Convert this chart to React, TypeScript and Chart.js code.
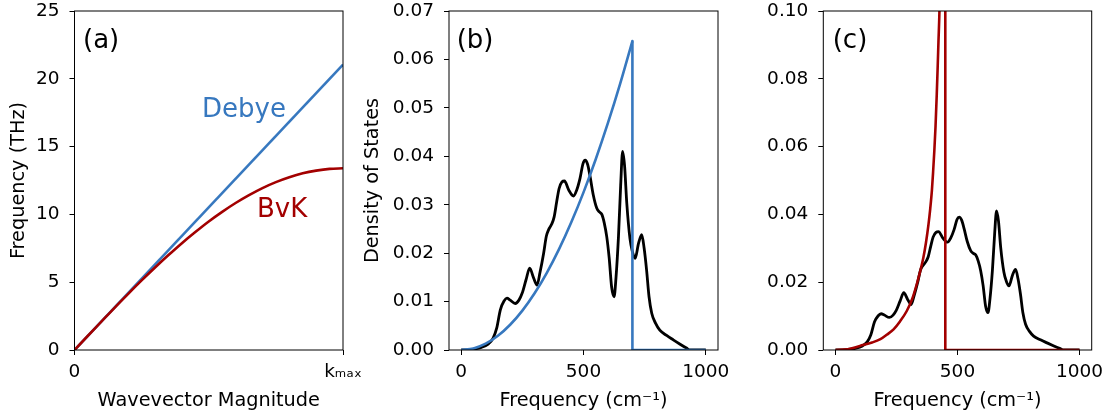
import React, { useEffect, useRef } from 'react';
import { Chart, registerables } from 'chart.js';

Chart.register(...registerables);

const FONT = '"DejaVu Sans", sans-serif';
const BLUE = '#3778bf';
const RED = '#a30000';
const BLACK = '#000000';

// ---------- Panel (a): dispersion ----------
const waveK = [0, 0.05, 0.1, 0.15, 0.2, 0.25, 0.3, 0.35, 0.4, 0.45, 0.5, 0.55, 0.6, 0.65, 0.7, 0.75, 0.8, 0.85, 0.9, 0.95, 1.0];
const bvkFreq = [0, 1.05, 2.09, 3.13, 4.14, 5.13, 6.08, 7.0, 7.88, 8.7, 9.48, 10.19, 10.84, 11.42, 11.94, 12.38, 12.74, 13.03, 13.23, 13.36, 13.4];
const debyeK = [0, 1];
const debyeFreq = [0, 21.05];
const kTickValues = [0, 1];
const kTickLabels = ['0', 'kₘₐₓ'];
const freqTickValues = [0, 500, 1000];

// ---------- Panels (b), (c): density of states ----------
const dosFreq = [0, 40, 80, 110, 130, 145, 160, 175, 187, 200, 221, 236, 249, 265, 280, 295, 310, 322, 337, 348, 357, 370, 380, 390, 400, 412, 422, 440, 459, 472, 486, 498, 507, 517, 527, 540, 554, 565, 575, 585, 595, 605, 615, 625, 633, 643, 652, 660, 668, 677, 690, 700, 711, 725, 738, 748, 758, 768, 779, 795, 812, 840, 867, 895, 921, 935, 1000];
const dosValue = [0, 0.0001, 0.0005, 0.0012, 0.0024, 0.0045, 0.0083, 0.0101, 0.0107, 0.0103, 0.0096, 0.0103, 0.0117, 0.0145, 0.0169, 0.015, 0.0134, 0.016, 0.02, 0.0235, 0.0248, 0.026, 0.0275, 0.0305, 0.0333, 0.0347, 0.0349, 0.033, 0.0318, 0.033, 0.0355, 0.0385, 0.0392, 0.0383, 0.0358, 0.032, 0.0293, 0.0285, 0.028, 0.0262, 0.0234, 0.019, 0.013, 0.011, 0.015, 0.0234, 0.034, 0.041, 0.038, 0.0303, 0.023, 0.0203, 0.0189, 0.022, 0.0238, 0.021, 0.0165, 0.011, 0.0076, 0.0055, 0.0041, 0.003, 0.0021, 0.0012, 0.0004, 0, 0];

// Debye DOS: rising branch, then the drop at the cutoff and the zero tail
const debyeDosFreq = [0, 50, 100, 150, 200, 250, 300, 350, 400, 450, 500, 550, 600, 650, 700];
const debyeDosValue = [0, 0.00033, 0.0013, 0.00293, 0.00521, 0.00814, 0.01172, 0.01595, 0.02083, 0.02637, 0.03255, 0.03939, 0.04688, 0.05501, 0.0638];
const debyeDropFreq = [700, 700, 1000];
const debyeDropValue = [0.0638, 0, 0];

// BvK DOS: rising (diverging) branch, then the drop at the cutoff and the zero tail
const bvkDosFreq = [0, 50, 100, 150, 184, 210, 238, 265, 292, 315, 333, 347, 360, 371, 381, 388, 395, 400, 405, 410, 415, 419, 422, 426, 432, 440, 446, 449];
const bvkDosValue = [0, 0.0002, 0.0012, 0.0022, 0.0032, 0.0045, 0.0061, 0.0085, 0.0115, 0.0152, 0.0194, 0.0232, 0.0272, 0.0318, 0.037, 0.0415, 0.047, 0.0525, 0.0587, 0.066, 0.0754, 0.084, 0.091, 0.1, 0.125, 0.18, 0.3, 0.6];
const bvkDropFreq = [450, 450, 1000];
const bvkDropValue = [0.6, 0, 0];

const zip = (xs: number[], ys: number[]) => xs.map((x, i) => ({ x, y: ys[i] }));

type Note = { text: string; dx: number; dy: number; color: string };

interface PanelSpec {
  plotLeft: number;
  plotRight: number;
  yAxisWidth: number;
  xMin: number;
  xMax: number;
  xTicks: number[];
  xLabel: (v: number, i: number) => string;
  yMax: number;
  yStep: number;
  yDecimals: number;
  yTitle: string | null;
  xTitle: string;
  datasets: any[];
  notes: Note[];
}

const W = 1107;
const H = 413;
const PLOT_TOP = 11;
const X_AXIS_H = 63;

function buildConfig(p: PanelSpec): any {
  const framePlugin = {
    id: 'frame',
    afterDatasetsDraw(chart: any) {
      const { ctx, chartArea: a } = chart;
      ctx.save();
      ctx.strokeStyle = '#000';
      ctx.lineWidth = 1;
      ctx.strokeRect(a.left, a.top, a.right - a.left, a.bottom - a.top);
      ctx.textBaseline = 'alphabetic';
      ctx.textAlign = 'left';
      ctx.font = `26px ${FONT}`;
      p.notes.forEach((n) => {
        ctx.fillStyle = n.color;
        ctx.fillText(n.text, a.left + n.dx, a.top + n.dy);
      });
      ctx.restore();
    },
  };
  const tickFont = { family: FONT, size: 18.5 };
  const titleFont = { family: FONT, size: 19.3 };
  return {
    type: 'line',
    data: { datasets: p.datasets },
    plugins: [framePlugin],
    options: {
      responsive: false,
      animation: false,
      events: [],
      layout: { padding: { left: p.plotLeft - p.yAxisWidth, right: W - p.plotRight, top: PLOT_TOP, bottom: 0 } },
      plugins: { legend: { display: false }, tooltip: { enabled: false } },
      elements: { point: { radius: 0 } },
      scales: {
        x: {
          type: 'linear',
          min: p.xMin,
          max: p.xMax,
          afterFit: (s: any) => {
            s.height = X_AXIS_H;
            s.paddingLeft = 0;
            s.paddingRight = 0;
          },
          afterBuildTicks: (s: any) => {
            s.ticks = p.xTicks.map((v) => ({ value: v }));
          },
          border: { display: false },
          grid: { drawOnChartArea: false, drawTicks: true, tickLength: 5, color: '#000', tickColor: '#000', lineWidth: 1 },
          ticks: {
            color: '#000',
            font: tickFont,
            padding: 6,
            maxRotation: 0,
            autoSkip: false,
            callback: (v: number, i: number) => p.xLabel(v, i),
          },
          title: { display: true, text: p.xTitle, color: '#000', font: titleFont, padding: { top: 0, bottom: 0.5 } },
        },
        y: {
          type: 'linear',
          min: 0,
          max: p.yMax,
          afterFit: (s: any) => {
            s.width = p.yAxisWidth;
            s.paddingTop = 0;
            s.paddingBottom = 0;
          },
          border: { display: false },
          grid: { drawOnChartArea: false, drawTicks: true, tickLength: 5, color: '#000', tickColor: '#000', lineWidth: 1 },
          ticks: {
            color: '#000',
            font: tickFont,
            padding: 10,
            stepSize: p.yStep,
            autoSkip: false,
            callback: (v: number) => Number(v).toFixed(p.yDecimals),
          },
          title: p.yTitle
            ? { display: true, text: p.yTitle, color: '#000', font: titleFont, padding: { top: 0, bottom: 0 } }
            : { display: false },
        },
      },
    },
  };
}

const lineDs = (data: any[], color: string, width: number, smooth = true) => ({
  data,
  borderColor: color,
  backgroundColor: color,
  borderWidth: width,
  fill: false,
  pointRadius: 0,
  tension: 0,
  cubicInterpolationMode: smooth ? 'monotone' : 'default',
  borderCapStyle: 'butt',
  borderJoinStyle: 'round',
});

const panels: PanelSpec[] = [
  {
    plotLeft: 74.5,
    plotRight: 343,
    yAxisWidth: 67.5,
    xMin: 0,
    xMax: 1,
    xTicks: kTickValues,
    xLabel: (_v, i) => kTickLabels[i],
    yMax: 25,
    yStep: 5,
    yDecimals: 0,
    yTitle: 'Frequency (THz)',
    xTitle: 'Wavevector Magnitude',
    datasets: [
      lineDs(zip(waveK, bvkFreq), RED, 2.6),
      lineDs(zip(debyeK, debyeFreq), BLUE, 2.6, false),
    ],
    notes: [
      { text: '(a)', dx: 8.5, dy: 37, color: '#000' },
      { text: 'Debye', dx: 127.5, dy: 105.7, color: BLUE },
      { text: 'BvK', dx: 182.5, dy: 206, color: RED },
    ],
  },
  {
    plotLeft: 449,
    plotRight: 718,
    yAxisWidth: 87.6,
    xMin: -50,
    xMax: 1050,
    xTicks: freqTickValues,
    xLabel: (v) => String(v),
    yMax: 0.07,
    yStep: 0.01,
    yDecimals: 2,
    yTitle: 'Density of States',
    xTitle: 'Frequency (cm⁻¹)',
    datasets: [
      lineDs(zip(debyeDosFreq, debyeDosValue), BLUE, 2.6),
      lineDs(zip(debyeDropFreq, debyeDropValue), BLUE, 2.6, false),
      lineDs(zip(dosFreq, dosValue), BLACK, 2.8),
    ],
    notes: [{ text: '(b)', dx: 7.7, dy: 37, color: '#000' }],
  },
  {
    plotLeft: 823.3,
    plotRight: 1091.7,
    yAxisWidth: 60,
    xMin: -50,
    xMax: 1050,
    xTicks: freqTickValues,
    xLabel: (v) => String(v),
    yMax: 0.1,
    yStep: 0.02,
    yDecimals: 2,
    yTitle: null,
    xTitle: 'Frequency (cm⁻¹)',
    datasets: [
      lineDs(zip(bvkDosFreq, bvkDosValue), RED, 2.6),
      lineDs(zip(bvkDropFreq, bvkDropValue), RED, 2.6, false),
      lineDs(zip(dosFreq, dosValue), BLACK, 2.8),
    ],
    notes: [{ text: '(c)', dx: 9.4, dy: 37, color: '#000' }],
  },
];

function Panel({ spec }: { spec: PanelSpec }) {
  const ref = useRef<HTMLCanvasElement | null>(null);
  useEffect(() => {
    if (!ref.current) return;
    const chart = new Chart(ref.current, buildConfig(spec));
    return () => chart.destroy();
  }, [spec]);
  return (
    <canvas
      ref={ref}
      width={W}
      height={H}
      style={{ position: 'absolute', left: 0, top: 0, width: W, height: H }}
    />
  );
}

export default function App() {
  return (
    <div style={{ position: 'fixed', left: 0, top: 0, width: W, height: H, background: '#fff', overflow: 'hidden' }}>
      {panels.map((p, i) => (
        <Panel key={i} spec={p} />
      ))}
    </div>
  );
}
